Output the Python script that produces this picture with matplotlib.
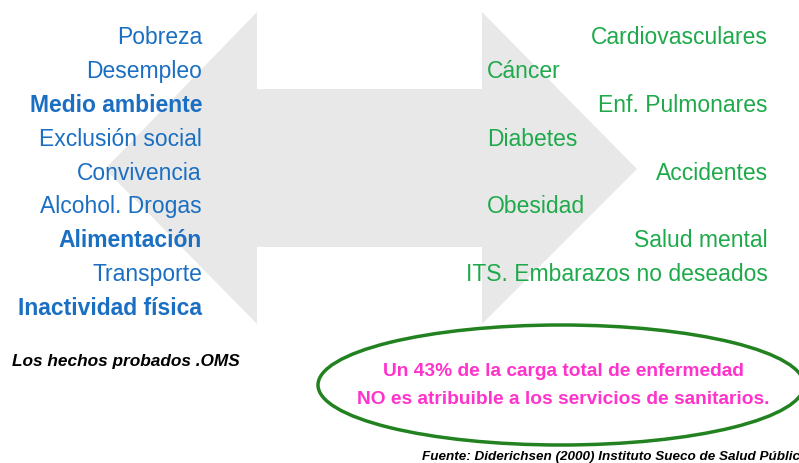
import matplotlib.pyplot as plt
from matplotlib.patches import Polygon, Ellipse

# determinantes (izquierda) y enfermedades (derecha)
determinantes = ['Pobreza', 'Desempleo', 'Medio ambiente', 'Exclusión social',
                 'Convivencia', 'Alcohol. Drogas', 'Alimentación', 'Transporte',
                 'Inactividad física']
det_negrita = [False, False, True, False, False, False, True, False, True]

enfermedades = ['Cardiovasculares', 'Cáncer', 'Enf. Pulmonares', 'Diabetes',
                'Accidentes', 'Obesidad', 'Salud mental',
                'ITS. Embarazos no deseados']
enf_lado = ['r', 'l', 'r', 'l', 'r', 'l', 'r', 'r']

mensaje = ['Un 43% de la carga total de enfermedad',
           'NO es atribuible a los servicios de sanitarios.']
nota = 'Los hechos probados .OMS'
fuente = 'Fuente: Diderichsen (2000) Instituto Sueco de Salud Pública'

plt.rcParams['font.family'] = ['Liberation Sans', 'DejaVu Sans']

W, H = 799, 464
fig = plt.figure(figsize=(W/100, H/100), dpi=100)
ax = fig.add_axes([0, 0, 1, 1])
ax.set_xlim(0, W)
ax.set_ylim(H, 0)
ax.axis('off')

# flecha doble gris
tipL, tipR, yc = 105, 637, 170
headL, headR = 257, 482
top, bot = 13, 325
s_top, s_bot = 90, 248
pts = [(tipL, yc), (headL, top), (headL, s_top), (headR, s_top), (headR, top),
       (tipR, yc), (headR, bot), (headR, s_bot), (headL, s_bot), (headL, bot)]
ax.add_patch(Polygon(pts, closed=True, fc='#e8e8e8', ec='none', zorder=0))

azul = '#1b6fc2'
verde = '#1eaa4a'
y0, dy = 38, 33.8
for i, t in enumerate(determinantes):
    ax.text(202, y0 + i*dy, t, ha='right', va='center', color=azul,
            fontsize=16.5, fontweight='bold' if det_negrita[i] else 'normal')

for i, t in enumerate(enfermedades):
    if enf_lado[i] == 'r':
        ax.text(768, y0 + i*dy, t, ha='right', va='center', color=verde, fontsize=16.5)
    else:
        ax.text(487, y0 + i*dy, t, ha='left', va='center', color=verde, fontsize=16.5)

ax.add_patch(Ellipse((561, 386), 486, 120, fc='none', ec='#228220', lw=2.5, zorder=3))
for i, t in enumerate(mensaje):
    ax.text(563, 372 + i*28, t, ha='center', va='center', color='#ff33cc',
            fontsize=13.8, fontweight='bold')

ax.text(12, 362, nota, ha='left', va='center', fontsize=12.4,
        fontweight='bold', fontstyle='italic', color='black')
ax.text(422, 457, fuente, ha='left', va='center', fontsize=9.7,
        fontweight='bold', fontstyle='italic', color='black', clip_on=True)

fig.savefig('out.png', dpi=100, facecolor='white')
